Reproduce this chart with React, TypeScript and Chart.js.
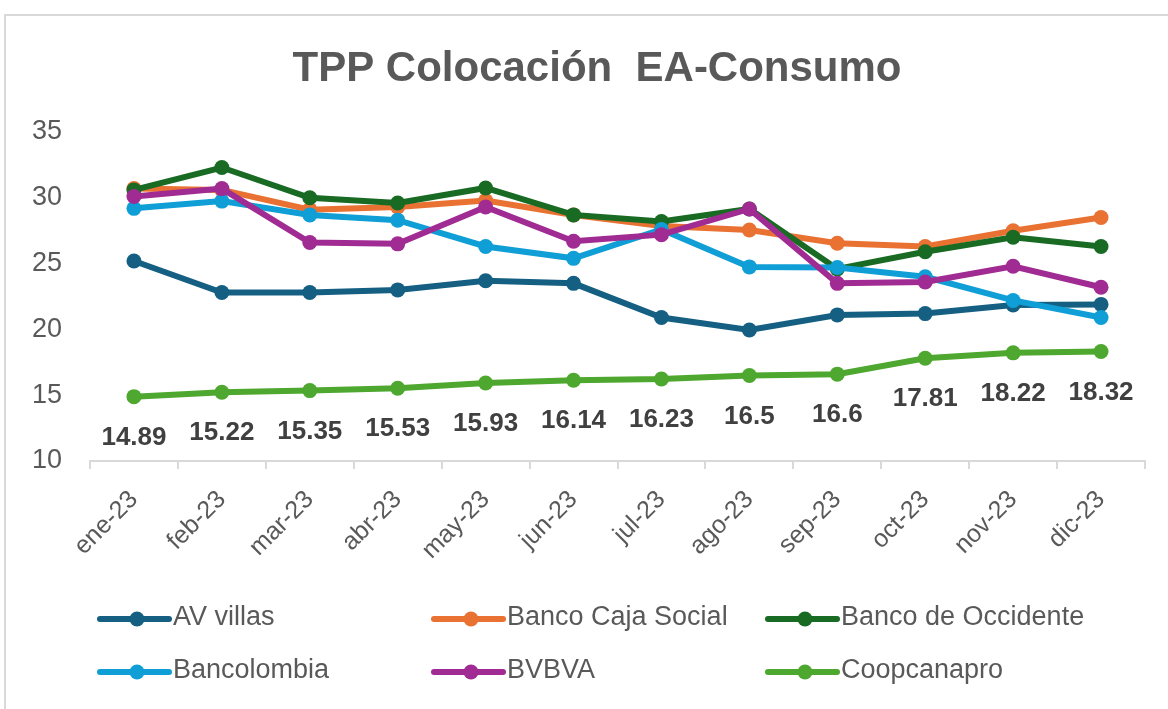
import React, { useEffect, useRef } from "react";
import { Chart, registerables } from "chart.js";
Chart.register(...registerables);

const categories = ["ene-23", "feb-23", "mar-23", "abr-23", "may-23", "jun-23", "jul-23", "ago-23", "sep-23", "oct-23", "nov-23", "dic-23"];
const avVillas = [25.2, 22.8, 22.8, 23.0, 23.7, 23.5, 20.9, 19.95, 21.1, 21.2, 21.85, 21.9];
const cajaSocial = [30.7, 30.6, 29.1, 29.3, 29.8, 28.7, 27.85, 27.55, 26.55, 26.3, 27.5, 28.5];
const occidente = [30.6, 32.3, 30.0, 29.6, 30.75, 28.7, 28.2, 29.15, 24.6, 25.9, 27.0, 26.3];
const bancolombia = [29.2, 29.75, 28.7, 28.3, 26.3, 25.4, 27.6, 24.75, 24.7, 24.0, 22.2, 20.9];
const bvbva = [30.1, 30.7, 26.6, 26.5, 29.3, 26.7, 27.2, 29.15, 23.5, 23.6, 24.8, 23.2];
const coopcanapro = [14.89, 15.22, 15.35, 15.53, 15.93, 16.14, 16.23, 16.5, 16.6, 17.81, 18.22, 18.32];

const seriesNames = ["AV villas", "Banco Caja Social", "Banco de Occidente", "Bancolombia", "BVBVA", "Coopcanapro"];
const seriesData = [avVillas, cajaSocial, occidente, bancolombia, bvbva, coopcanapro];
const seriesColors = ["#156082", "#E97132", "#196B24", "#0F9ED5", "#A02B93", "#4EA72E"];
const yTicks = [10, 15, 20, 25, 30, 35];

const FONT = "'Liberation Sans', Arial, sans-serif";

const customPlugin = {
  id: "custom",
  afterDatasetsDraw(chart: any) {
    const ctx = chart.ctx;
    const meta = chart.getDatasetMeta(5);
    ctx.save();
    ctx.font = `bold 26px ${FONT}`;
    ctx.fillStyle = "#404040";
    ctx.textAlign = "center";
    ctx.textBaseline = "middle";
    meta.data.forEach((pt: any, i: number) => {
      ctx.fillText(String(coopcanapro[i]), pt.x, pt.y + 41);
    });
    ctx.restore();
  },
  afterDraw(chart: any) {
    const ctx = chart.ctx;
    ctx.save();
    // title
    ctx.font = `bold 42px ${FONT}`;
    ctx.fillStyle = "#595959";
    ctx.textAlign = "center";
    ctx.textBaseline = "middle";
    ctx.fillText("TPP Colocación  EA-Consumo", 597, 69);
    // legend
    const colX = [100, 434, 768];
    const rowY = [619, 672];
    ctx.font = `27px ${FONT}`;
    ctx.textAlign = "left";
    seriesNames.forEach((name, i) => {
      const x = colX[i % 3];
      const y = rowY[Math.floor(i / 3)];
      ctx.strokeStyle = seriesColors[i];
      ctx.lineWidth = 6;
      ctx.lineCap = "round";
      ctx.beginPath();
      ctx.moveTo(x, y);
      ctx.lineTo(x + 69, y);
      ctx.stroke();
      ctx.fillStyle = seriesColors[i];
      ctx.beginPath();
      ctx.arc(x + 37, y, 7.5, 0, Math.PI * 2);
      ctx.fill();
      ctx.fillStyle = "#595959";
      ctx.fillText(name, x + 73, y - 1);
    });
    ctx.restore();
  },
};

export default function App() {
  const ref = useRef<HTMLCanvasElement>(null);
  useEffect(() => {
    if (!ref.current) return;
    const chart = new Chart(ref.current, {
      type: "line",
      data: {
        labels: categories,
        datasets: seriesData.map((d, i) => ({
          label: seriesNames[i],
          data: d,
          borderColor: seriesColors[i],
          backgroundColor: seriesColors[i],
          borderWidth: 6,
          pointRadius: 7.5,
          pointBorderWidth: 0,
          pointHoverRadius: 7.5,
          tension: 0,
          order: 5 - i,
        })),
      },
      options: {
        animation: false,
        responsive: false,
        maintainAspectRatio: false,
        layout: { padding: { left: 0, top: 132, right: 23, bottom: 118 } },
        plugins: {
          legend: { display: false },
          title: { display: false },
          tooltip: { enabled: false },
        },
        scales: {
          x: {
            type: "category",
            offset: true,
            afterFit: (s: any) => { s.height = 130; },
            grid: {
              display: true,
              offset: true,
              drawOnChartArea: false,
              drawTicks: true,
              tickLength: 8,
              color: "#d9d9d9",
              lineWidth: 2,
            },
            border: { display: true, color: "#d9d9d9", width: 2 },
            ticks: {
              minRotation: 45,
              maxRotation: 45,
              autoSkip: false,
              padding: 16,
              color: "#595959",
              font: { family: FONT, size: 25 },
            },
          },
          y: {
            min: 10,
            max: 35,
            afterFit: (s: any) => { s.width = 90; },
            afterBuildTicks: (s: any) => { s.ticks = yTicks.map((v) => ({ value: v })); },
            grid: { display: false, drawTicks: false },
            border: { display: false },
            ticks: {
              padding: 28,
              color: "#595959",
              font: { family: FONT, size: 27 },
            },
          },
        },
      },
      plugins: [customPlugin],
    });
    return () => chart.destroy();
  }, []);
  return (
    <div style={{ position: "absolute", left: 0, top: 0, width: 1168, height: 709, overflow: "hidden", background: "#fff" }}>
      <div style={{ position: "absolute", left: 4, top: 14, width: 1300, height: 800, border: "2px solid #d9d9d9", boxSizing: "border-box" }} />
      <canvas ref={ref} width={1168} height={709} style={{ position: "absolute", left: 0, top: 0, width: 1168, height: 709 }} />
    </div>
  );
}
